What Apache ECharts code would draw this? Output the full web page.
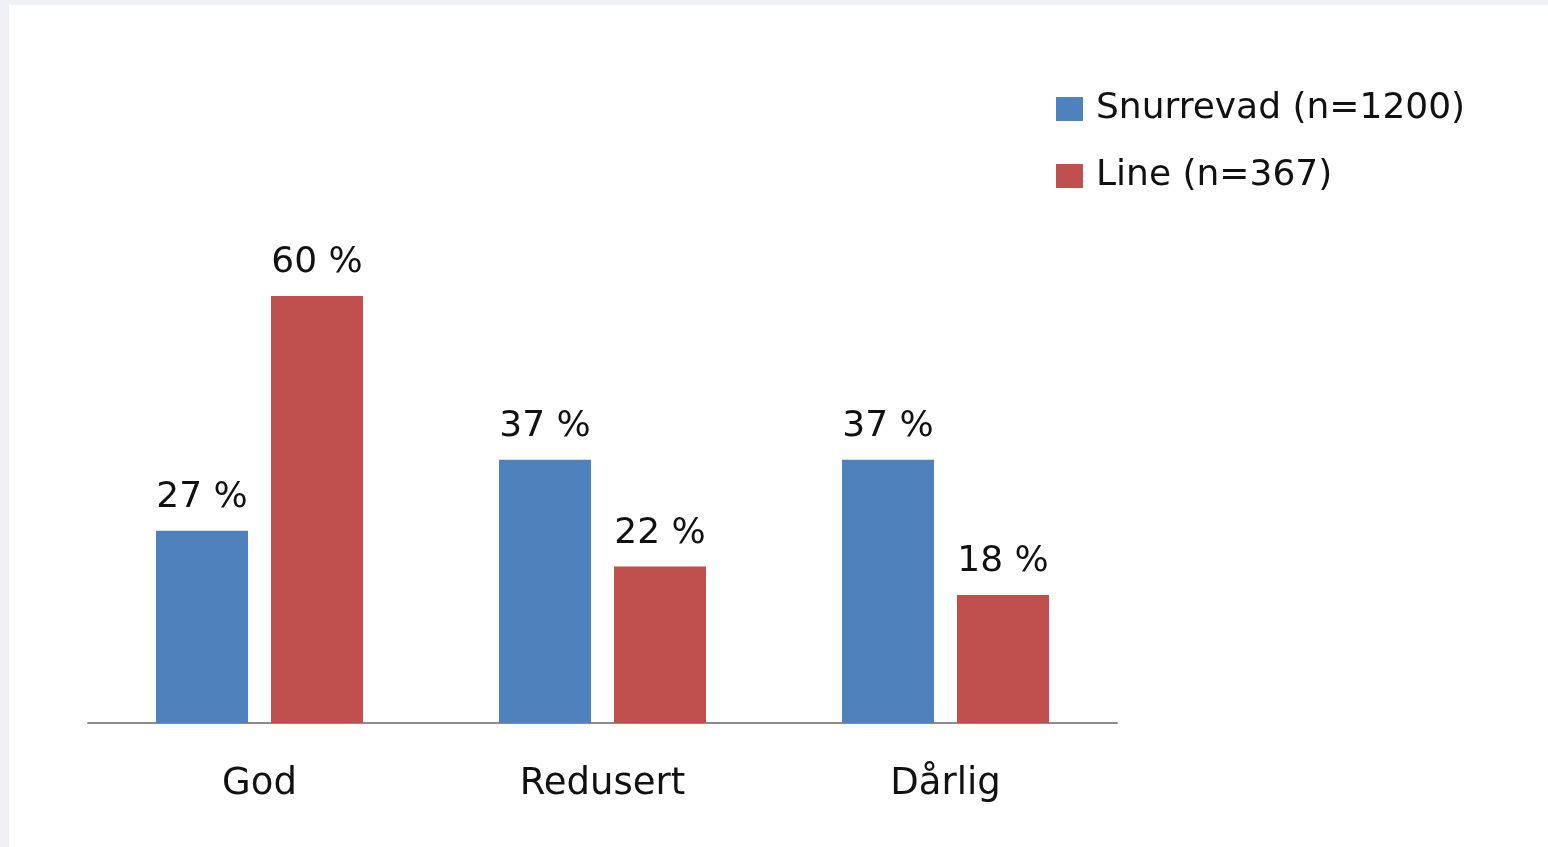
<!doctype html>
<html lang="no">
<head>
<meta charset="UTF-8">
<title>Snurrevad vs Line</title>
<script src="https://cdn.jsdelivr.net/npm/echarts@6/dist/echarts.min.js"></script>
<style>
  html, body { margin: 0; padding: 0; background: #eff1f4; overflow: hidden; }
  #main { position: absolute; left: 9px; top: 5px; width: 1539px; height: 842px; background: #fff; }
</style>
</head>
<body>
<div id="main"></div>
<script type="text/javascript">
    // data
    var categories = ['God', 'Redusert', 'Dårlig'];
    var snurrevad = [27, 37, 37];
    var line = [60, 22, 18];
    var seriesNames = ['Snurrevad (n=1200)', 'Line (n=367)'];

    var myChart = echarts.init(document.getElementById('main'));
    var font = '"DejaVu Sans", "Open Sans", sans-serif';

    var labelStyle = {
        show: true,
        position: 'top',
        distance: 15,
        formatter: '{c} %',
        color: '#111',
        fontSize: 36,
        fontFamily: font
    };

    var option = {
        animation: false,
        textStyle: { fontFamily: font },
        legend: {
            orient: 'vertical',
            left: 1042,
            top: 81,
            itemWidth: 27,
            itemHeight: 24,
            itemGap: 31,
            icon: 'rect',
            textStyle: { fontSize: 36, color: '#111', fontFamily: font, padding: [0, 0, 0, 8] },
            data: seriesNames
        },
        grid: {
            left: 79,
            right: 431,
            top: 291,
            bottom: 124
        },
        xAxis: {
            type: 'category',
            data: categories,
            axisLine: { lineStyle: { color: '#8c8c8c', width: 2 } },
            axisTick: { show: false },
            axisLabel: { fontSize: 37, color: '#111', margin: 43, fontFamily: font }
        },
        yAxis: {
            type: 'value',
            min: 0,
            max: 60,
            show: false,
            splitLine: { show: false }
        },
        series: [
            {
                name: seriesNames[0],
                type: 'bar',
                data: snurrevad,
                barWidth: 92,
                barGap: '25%',
                itemStyle: { color: '#4f81bd' },
                label: labelStyle
            },
            {
                name: seriesNames[1],
                type: 'bar',
                data: line,
                barWidth: 92,
                barGap: '25%',
                itemStyle: { color: '#c0504d' },
                label: labelStyle
            }
        ]
    };
    myChart.setOption(option);
</script>
</body>
</html>
